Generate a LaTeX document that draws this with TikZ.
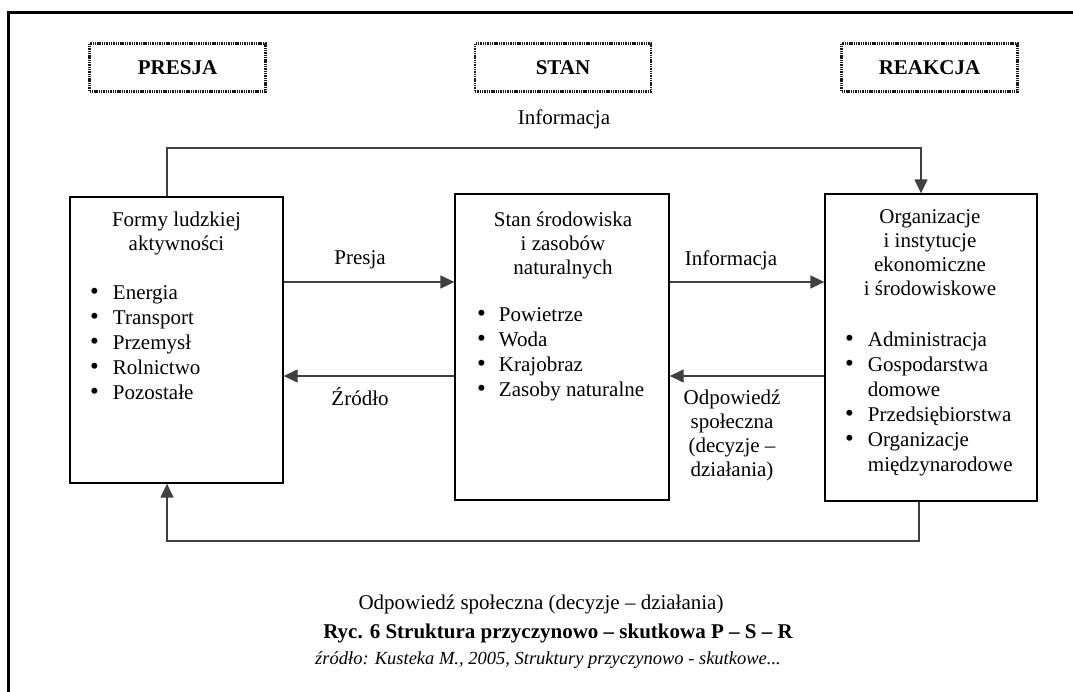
\documentclass[tikz,border=0pt]{standalone}
\usepackage{fontspec}
\setmainfont{Liberation Serif}
\usetikzlibrary{arrows.meta}
\newcommand{\blt}{{\fontsize{25}{25}\selectfont\textbullet}}

\begin{document}
\begin{tikzpicture}[x=1pt,y=-1pt,
		txt/.style={font=\fontsize{21}{24}\selectfont, inner sep=0pt, anchor=base},
		lst/.style={font=\fontsize{21}{25}\selectfont, inner sep=0pt, anchor=base west},
		titlebox/.style={draw=black!90, line width=2.4pt, dash pattern=on 1.4pt off 0.9pt, minimum width=176pt, minimum height=48pt, font=\fontsize{21}{24}\selectfont\bfseries},
		mainbox/.style={draw, line width=1.3pt},
		link/.style={line width=1.3pt, black!75},
		arr/.style={link, -{Triangle[length=14pt,width=13pt]}}]
		\useasboundingbox (0,0) rectangle (1073,691);
		\draw[line width=3pt] (8,700) -- (8,12) -- (1085,12);
		\node[titlebox] (presja) at (177.5,67.5) {PRESJA};
		\node[titlebox] (stan) at (563,67.5) {STAN};
		\node[titlebox] (reakcja) at (929.5,67.5) {REAKCJA};
		\node[mainbox, minimum width=213pt, minimum height=286pt] (forma) at (176.5,340) {};
		\node[mainbox, minimum width=214pt, minimum height=306pt] (srodowisko) at (562,347) {};
		\node[mainbox, minimum width=212pt, minimum height=307pt] (organizacje) at (931,347.5) {};
		\node[txt] (formaT) at (176.5,226) {\begin{tabular}[t]{@{}c@{}}Formy ludzkiej\\aktywności\end{tabular}};
		\node[lst] (formaL) at (90,299) {\begin{tabular}[t]{@{}l@{\hspace{14pt}}l@{}}\blt & Energia\\\blt & Transport\\\blt & Przemysł\\\blt & Rolnictwo\\\blt & Pozostałe\end{tabular}};
		\node[txt] (srodowiskoT) at (563,226) {\begin{tabular}[t]{@{}c@{}}Stan środowiska\\i zasobów\\naturalnych\end{tabular}};
		\node[lst] (srodowiskoL) at (477,321) {\begin{tabular}[t]{@{}l@{\hspace{13pt}}l@{}}\blt & Powietrze\\\blt & Woda\\\blt & Krajobraz\\\blt & Zasoby naturalne\end{tabular}};
		\node[txt] (organizacjeT) at (930,223) {\begin{tabular}[t]{@{}c@{}}Organizacje\\i instytucje\\ekonomiczne\\i środowiskowe\end{tabular}};
		\node[lst] (organizacjeL) at (845,346) {\begin{tabular}[t]{@{}l@{\hspace{14pt}}l@{}}\blt & Administracja\\\blt & Gospodarstwa\\ & domowe\\\blt & Przedsiębiorstwa\\\blt & Organizacje\\ & międzynarodowe\end{tabular}};
		\coordinate (topL) at (167,148);
		\coordinate (topR) at (921,148);
		\coordinate (botR) at (919,541);
		\coordinate (botL) at (167,541);
		\coordinate (upper) at (0,282);
		\coordinate (lower) at (0,376);
		\draw[arr] (forma.north -| topL) -- (topL) -- (topR) -- (organizacje.north -| topR);
		\draw[arr] (organizacje.south -| botR) -- (botR) -- (botL) -- (forma.south -| botL);
		\draw[arr] (forma.east |- upper) -- (srodowisko.west |- upper);
		\draw[arr] (srodowisko.west |- lower) -- (forma.east |- lower);
		\draw[arr] (srodowisko.east |- upper) -- (organizacje.west |- upper);
		\draw[arr] (organizacje.west |- lower) -- (srodowisko.east |- lower);
		\node[txt] (info1) at (564,124) {Informacja};
		\node[txt] (presjaL) at (360,264) {Presja};
		\node[txt] (zrodloL) at (360,405) {Źródło};
		\node[txt] (info2) at (731,265) {Informacja};
		\node[txt] (odpL) at (732,404) {\begin{tabular}[t]{@{}c@{}}Odpowiedź\\społeczna\\(decyzje –\\działania)\end{tabular}};
		\node[txt] (odpB) at (541,609) {Odpowiedź społeczna (decyzje – działania)};
		\node[txt, font=\fontsize{21}{24}\selectfont\bfseries] (ryc) at (558,638) {Ryc. 6 Struktura przyczynowo – skutkowa P – S – R};
		\node[txt, font=\fontsize{18.5}{20}\selectfont\itshape] (zrodlo) at (548,664) {źródło: Kusteka M., 2005, Struktury przyczynowo - skutkowe...};
	\end{tikzpicture}
\end{document}
